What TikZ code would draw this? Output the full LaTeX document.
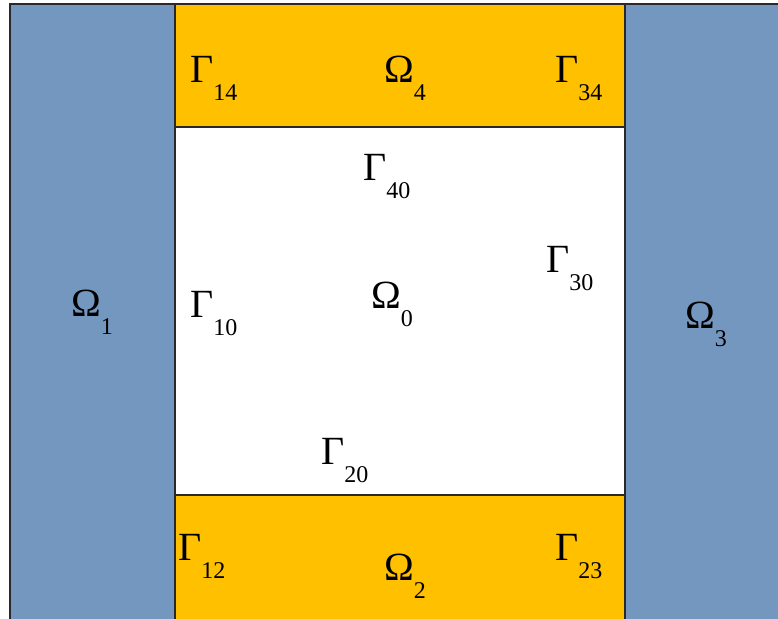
\documentclass[tikz,border=0pt]{standalone}
\usepackage{fontspec}
\setmainfont{Liberation Serif}
\definecolor{regblue}{RGB}{116,151,192}
\definecolor{reggold}{RGB}{255,192,0}
\definecolor{edge}{RGB}{40,40,45}
\newcommand{\subs}[1]{\raisebox{-0.45em}{\fontsize{24}{24}\selectfont #1}}
\tikzset{
  lab/.style={anchor=base west, inner sep=0pt, font=\fontsize{40}{44}\selectfont},
  region/.style={draw=edge, line width=1.6pt}
}
\begin{document}
\begin{tikzpicture}[x=1pt,y=-1pt]
\useasboundingbox (0,0) rectangle (778,618);
\clip (0,0) rectangle (778,618);
\fill[white] (0,0) rectangle (778,618);
% regions
\filldraw[region, fill=regblue] (10,4) rectangle (175,640);
\filldraw[region, fill=regblue] (625,4) rectangle (800,640);
\filldraw[region, fill=reggold] (175,4) rectangle (625,127);
\filldraw[region, fill=white] (175,127) rectangle (625,495);
\filldraw[region, fill=reggold] (175,495) rectangle (625,640);
% labels
\node[lab] (g14) at (190,82) {Γ\subs{14}};
\node[lab] (o4) at (384,82) {Ω\subs{4}};
\node[lab] (g34) at (555,82) {Γ\subs{34}};
\node[lab] (g40) at (363,180) {Γ\subs{40}};
\node[lab] (o0) at (371,308) {Ω\subs{0}};
\node[lab] (g30) at (546,272) {Γ\subs{30}};
\node[lab] (g10) at (190,317) {Γ\subs{10}};
\node[lab] (o1) at (71,316) {Ω\subs{1}};
\node[lab] (o3) at (685,328) {Ω\subs{3}};
\node[lab] (g20) at (321,464) {Γ\subs{20}};
\node[lab] (g12) at (178,560) {Γ\subs{12}};
\node[lab] (o2) at (384,580) {Ω\subs{2}};
\node[lab] (g23) at (555,560) {Γ\subs{23}};
\end{tikzpicture}
\end{document}
